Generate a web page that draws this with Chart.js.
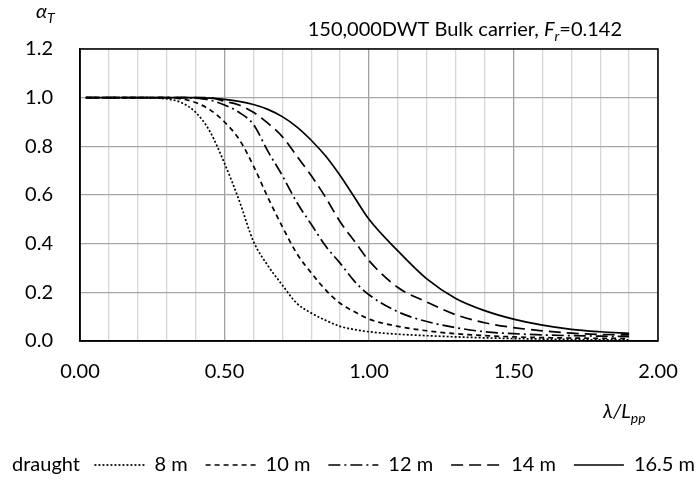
<!DOCTYPE html>
<html lang="en">
<head>
<meta charset="UTF-8">
<title>Bulk carrier alpha_T</title>
<script src="https://cdn.jsdelivr.net/npm/chart.js"></script>
<style>
    body { margin: 0; background: #fff; }
    #wrap { width: 700px; height: 481px; }
</style>
</head>
<body>
<div id="wrap"><canvas id="grafico"></canvas></div>

<script>
    // lambda / Lpp
    var lambdaL = [0.02, 0.1, 0.2, 0.3, 0.35, 0.4, 0.45, 0.5, 0.55, 0.6, 0.65, 0.7, 0.75, 0.8, 0.85, 0.9, 0.95, 1.0, 1.1, 1.2, 1.3, 1.4, 1.5, 1.6, 1.7, 1.8, 1.9];

    // alpha_T for each draught
    var alpha8 = [1, 1, 1, 0.995, 0.98, 0.94, 0.86, 0.73, 0.58, 0.41, 0.31, 0.23, 0.155, 0.115, 0.085, 0.06, 0.047, 0.038, 0.028, 0.022, 0.017, 0.013, 0.01, 0.008, 0.006, 0.005, 0.005];
    var alpha10 = [1, 1, 1, 1, 0.995, 0.98, 0.95, 0.90, 0.83, 0.72, 0.59, 0.47, 0.36, 0.28, 0.21, 0.155, 0.12, 0.09, 0.06, 0.042, 0.03, 0.022, 0.017, 0.014, 0.012, 0.011, 0.01];
    var alpha12 = [1, 1, 1, 1, 1, 0.998, 0.99, 0.97, 0.94, 0.89, 0.78, 0.68, 0.57, 0.48, 0.39, 0.32, 0.245, 0.19, 0.12, 0.08, 0.055, 0.038, 0.03, 0.025, 0.022, 0.02, 0.018];
    var alpha14 = [1, 1, 1, 1, 1, 1, 1, 0.985, 0.97, 0.94, 0.895, 0.84, 0.76, 0.68, 0.59, 0.49, 0.41, 0.33, 0.22, 0.16, 0.108, 0.075, 0.055, 0.042, 0.032, 0.027, 0.025];
    var alpha165 = [1, 1, 1, 1, 1, 1, 0.998, 0.993, 0.985, 0.972, 0.952, 0.922, 0.88, 0.825, 0.76, 0.68, 0.59, 0.50, 0.37, 0.255, 0.175, 0.125, 0.09, 0.065, 0.048, 0.038, 0.031];

    var nomesDraught = ['8 m', '10 m', '12 m', '14 m', '16.5 m'];
    var tracos = [[2, 2], [5, 4], [12, 4, 2, 4], [12, 6], []];
    var series = [alpha8, alpha10, alpha12, alpha14, alpha165];

    var fonte = 'Lato, "Open Sans", sans-serif';

    function pontos(ys) {
        var lista = [];
        for (let i = 0; i < lambdaL.length; i++) {
            lista.push({ x: lambdaL[i], y: ys[i] });
        }
        return lista;
    }

    // draws a run of text pieces: [texto, italic, subscript]
    function textoMisto(ctx, pedacos, x, y, tam) {
        for (const p of pedacos) {
            var t = p[2] ? tam * 0.7 : tam;
            ctx.font = (p[1] ? 'italic ' : '') + t + 'px ' + fonte;
            ctx.fillText(p[0], x, y + (p[2] ? tam * 0.25 : 0));
            x += ctx.measureText(p[0]).width;
        }
        return x;
    }

    function larguraMista(ctx, pedacos, tam) {
        var w = 0;
        for (const p of pedacos) {
            var t = p[2] ? tam * 0.7 : tam;
            ctx.font = (p[1] ? 'italic ' : '') + t + 'px ' + fonte;
            w += ctx.measureText(p[0]).width;
        }
        return w;
    }

    var extras = {
        id: 'extras',
        afterLayout(chart) {
            // let the legend run to the right edge like the original
            chart.legend.right = 713;
        },
        afterDraw(chart) {
            const ctx = chart.ctx, a = chart.chartArea;
            ctx.save();
            ctx.strokeStyle = '#000';
            ctx.lineWidth = 1.5;
            ctx.strokeRect(a.left, a.top, a.right - a.left, a.bottom - a.top);

            ctx.fillStyle = '#000';
            ctx.textBaseline = 'alphabetic';
            ctx.textAlign = 'left';

            // title
            var titulo = [['150,000DWT Bulk carrier, ', false, false], ['F', true, false], ['r', true, true], ['=0.142', false, false]];
            var w = larguraMista(ctx, titulo, 20);
            textoMisto(ctx, titulo, 622 - w, 36, 20);

            // y axis title
            textoMisto(ctx, [['α', true, false], ['T', true, true]], 36, 18, 20);

            // x axis title
            textoMisto(ctx, [['λ/L', true, false], ['pp', true, true]], 603, 418, 20);

            // legend caption
            var hb = chart.legend.legendHitBoxes[0];
            if (hb) {
                ctx.font = '20px ' + fonte;
                ctx.textBaseline = 'middle';
                ctx.fillText('draught', 12, hb.top + hb.height / 2);
            }
            ctx.restore();
        }
    };

    var datasets = [];
    for (let i = 0; i < series.length; i++) {
        datasets.push({
            label: nomesDraught[i],
            data: pontos(series[i]),
            borderColor: '#000',
            backgroundColor: '#000',
            borderWidth: 1.7,
            borderDash: tracos[i],
            pointRadius: 0,
            pointStyle: 'line',
            cubicInterpolationMode: 'monotone',
            fill: false
        });
    }

    new Chart(document.getElementById('grafico'), {
        type: 'line',
        data: { datasets: datasets },
        plugins: [extras],
        options: {
            responsive: true,
            maintainAspectRatio: false,
            animation: false,
            layout: { padding: { left: 0, right: 0, top: 49, bottom: -4 } },
            plugins: {
                tooltip: { enabled: false },
                legend: {
                    position: 'bottom',
                    align: 'end',
                    labels: {
                        color: '#000',
                        usePointStyle: true,
                        pointStyle: 'line',
                        pointStyleWidth: 50,
                        padding: 18,
                        font: { family: fonte, size: 20 },
                        generateLabels: function (chart) {
                            var itens = Chart.defaults.plugins.legend.labels.generateLabels(chart);
                            itens.forEach(function (it, i) {
                                it.lineDash = chart.data.datasets[i].borderDash;
                                it.lineWidth = 1.7;
                                it.strokeStyle = '#000';
                            });
                            return itens;
                        }
                    }
                }
            },
            scales: {
                x: {
                    type: 'linear',
                    min: 0,
                    max: 2,
                    afterFit: function (s) { s.height = 96; },
                    ticks: {
                        stepSize: 0.1,
                        autoSkip: false,
                        maxRotation: 0,
                        padding: 19,
                        color: '#000',
                        font: { family: fonte, size: 20 },
                        callback: function (v) {
                            var d = v * 2;
                            return Math.abs(d - Math.round(d)) < 1e-6 ? Number(v).toFixed(2) : '';
                        }
                    },
                    grid: {
                        drawTicks: false,
                        lineWidth: 1.3,
                        color: function (c) {
                            var d = c.tick.value * 2;
                            return Math.abs(d - Math.round(d)) < 1e-6 ? '#a0a0a0' : '#d6d6d6';
                        }
                    },
                    border: { color: '#000', width: 1.5 }
                },
                y: {
                    min: 0,
                    max: 1.2,
                    afterFit: function (s) { s.width = 80; },
                    ticks: {
                        stepSize: 0.2,
                        padding: 27,
                        color: '#000',
                        font: { family: fonte, size: 20 },
                        callback: function (v) { return Number(v).toFixed(1); }
                    },
                    grid: { drawTicks: false, color: '#a6a6a6', lineWidth: 1.3 },
                    border: { color: '#000', width: 1.5 }
                },
                y2: {
                    position: 'right',
                    min: 0,
                    max: 1.2,
                    afterFit: function (s) { s.width = 42; },
                    ticks: { display: false },
                    grid: { display: false, drawTicks: false },
                    border: { display: false }
                }
            }
        }
    });
</script>
</body>
</html>
